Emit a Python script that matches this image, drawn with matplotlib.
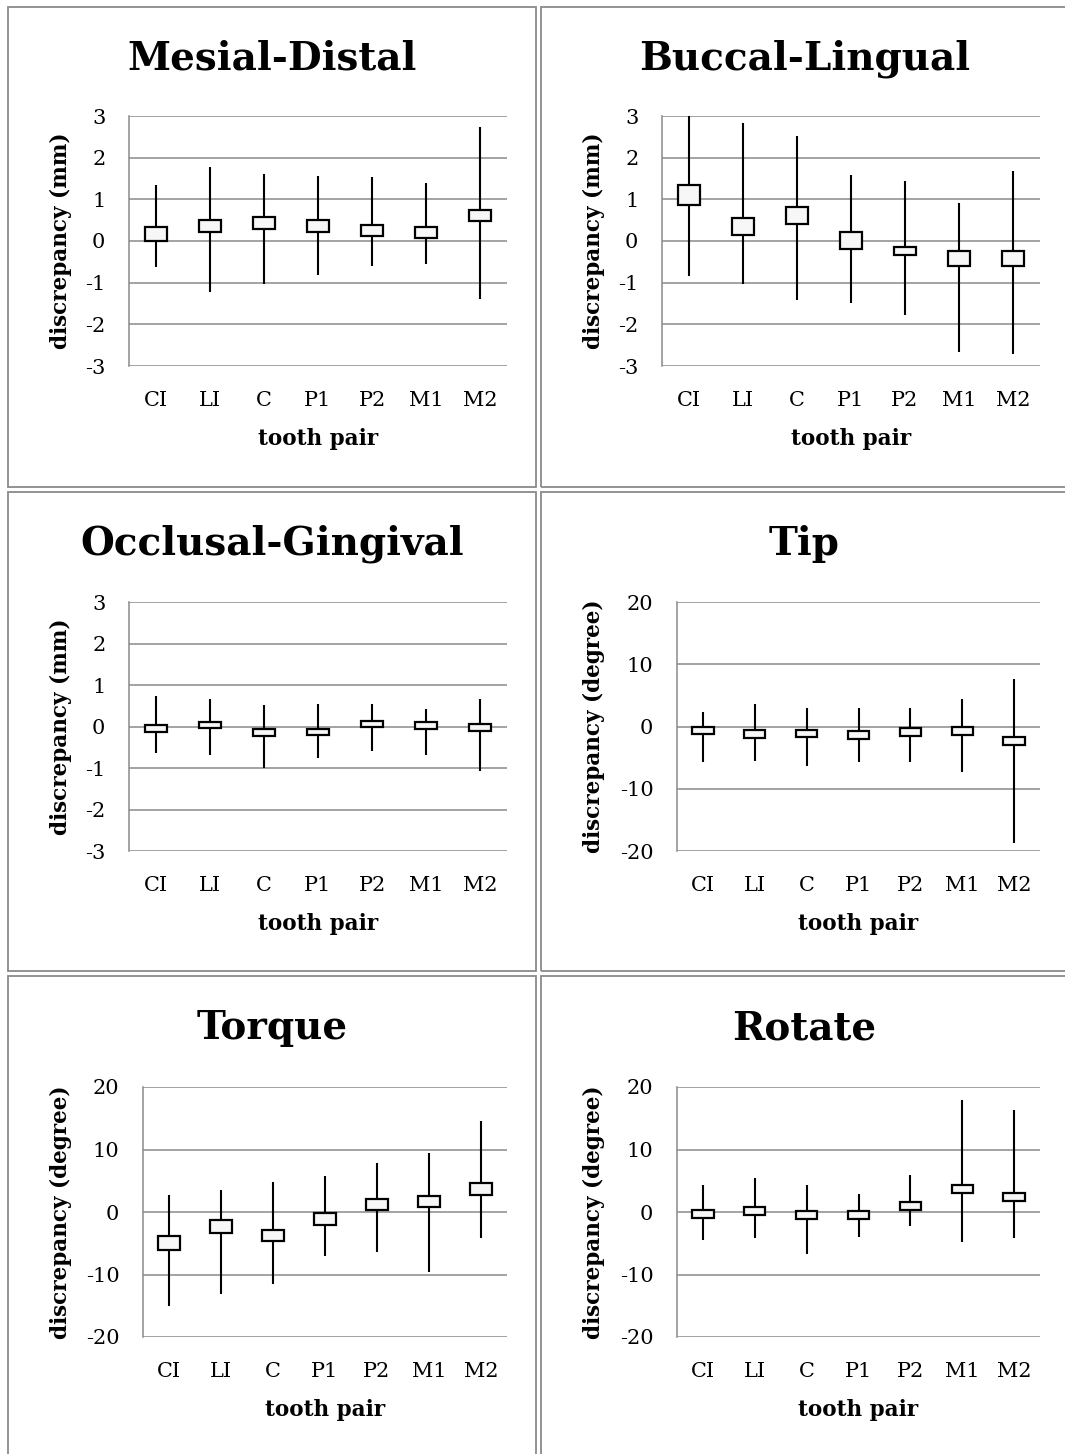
"""Tooth-pair discrepancy charts: min-max range with interval box, six panels."""

import matplotlib

matplotlib.use("Agg")
import matplotlib.pyplot as plt
from matplotlib.patches import Rectangle

W, H = 1065, 1454

teeth = ["CI", "LI", "C", "P1", "P2", "M1", "M2"]

# each panel: line max, line min, box top, box bottom
md_max = [1.34, 1.77, 1.61, 1.56, 1.53, 1.40, 2.73]
md_min = [-0.63, -1.23, -1.03, -0.81, -0.61, -0.56, -1.39]
md_top = [0.33, 0.50, 0.57, 0.50, 0.38, 0.34, 0.75]
md_bot = [0.01, 0.22, 0.30, 0.22, 0.11, 0.08, 0.48]

bl_max = [3.0, 2.83, 2.51, 1.58, 1.45, 0.91, 1.68]
bl_min = [-0.83, -1.03, -1.41, -1.49, -1.78, -2.67, -2.72]
bl_top = [1.34, 0.55, 0.82, 0.21, -0.15, -0.23, -0.23]
bl_bot = [0.86, 0.14, 0.42, -0.18, -0.34, -0.60, -0.60]

og_max = [0.73, 0.66, 0.51, 0.55, 0.55, 0.43, 0.66]
og_min = [-0.63, -0.68, -1.00, -0.77, -0.59, -0.68, -1.07]
og_top = [0.04, 0.11, -0.06, -0.06, 0.13, 0.10, 0.06]
og_bot = [-0.14, -0.03, -0.22, -0.21, -0.02, -0.06, -0.10]

tip_max = [2.35, 3.69, 3.05, 2.99, 3.05, 4.39, 7.59]
tip_min = [-5.72, -5.61, -6.31, -5.67, -5.72, -7.33, -18.77]
tip_top = [-0.05, -0.59, -0.53, -0.75, -0.32, -0.05, -1.66]
tip_bot = [-1.28, -1.87, -1.76, -1.98, -1.60, -1.34, -2.99]

tq_max = [2.77, 3.47, 4.85, 5.81, 7.79, 9.49, 14.5]
tq_min = [-15.04, -13.12, -11.47, -7.09, -6.45, -9.55, -4.16]
tq_top = [-3.84, -1.33, -2.83, -0.21, 2.13, 2.61, 4.59]
tq_bot = [-6.13, -3.31, -4.69, -2.03, 0.27, 0.80, 2.72]

rot_max = [4.37, 5.44, 4.37, 2.88, 5.87, 17.97, 16.27]
rot_min = [-4.43, -4.21, -6.77, -3.95, -2.19, -4.85, -4.16]
rot_top = [0.32, 0.85, 0.16, 0.16, 1.55, 4.27, 3.09]
rot_bot = [-1.01, -0.43, -1.12, -1.12, 0.27, 2.99, 1.76]

mm_ticks = [-3, -2, -1, 0, 1, 2, 3]
deg_ticks = [-20, -10, 0, 10, 20]

GRID = "#8a8a8a"
FONT = "DejaVu Serif"

# (title, ylabel, ticks, series, panel box px, axes box px)
panels = [
    ("Mesial-Distal", "discrepancy (mm)", mm_ticks,
     (md_max, md_min, md_top, md_bot), (8, 7, 536, 487), (129, 116, 507, 366)),
    ("Buccal-Lingual", "discrepancy (mm)", mm_ticks,
     (bl_max, bl_min, bl_top, bl_bot), (541, 7, 1068, 487), (662, 116, 1040, 366)),
    ("Occlusal-Gingival", "discrepancy (mm)", mm_ticks,
     (og_max, og_min, og_top, og_bot), (8, 492, 536, 971), (129, 602, 507, 851)),
    ("Tip", "discrepancy (degree)", deg_ticks,
     (tip_max, tip_min, tip_top, tip_bot), (541, 492, 1068, 971), (677, 602, 1040, 851)),
    ("Torque", "discrepancy (degree)", deg_ticks,
     (tq_max, tq_min, tq_top, tq_bot), (8, 976, 536, 1460), (143, 1087, 507, 1337)),
    ("Rotate", "discrepancy (degree)", deg_ticks,
     (rot_max, rot_min, rot_top, rot_bot), (541, 976, 1068, 1460), (677, 1087, 1040, 1337)),
]


def draw_panel(fig, title, ylabel, ticks, series, pbox, abox):
    px0, py0, px1, py1 = pbox
    fig.patches.append(
        Rectangle((px0 / W, 1 - py1 / H), (px1 - px0) / W, (py1 - py0) / H,
                  transform=fig.transFigure, fill=False, edgecolor=GRID,
                  linewidth=1.3, zorder=0)
    )
    fig.text((px0 + px1) / 2 / W, 1 - (py0 + 52) / H, title, ha="center",
             va="center", fontsize=28, fontweight="bold", family=FONT)

    ax0, ay0, ax1, ay1 = abox
    ax = fig.add_axes([ax0 / W, 1 - ay1 / H, (ax1 - ax0) / W, (ay1 - ay0) / H])
    hi, lo, top, bot = series
    xs = list(range(len(teeth)))
    ax.vlines(xs, lo, hi, color="black", linewidth=1.5, zorder=3)
    heights = [t - b for t, b in zip(top, bot)]
    ax.bar(xs, heights, bottom=bot, width=0.41, facecolor="#f7f7f7",
           edgecolor="black", linewidth=1.6, zorder=4)

    ax.set_xlim(-0.5, len(teeth) - 0.5)
    ax.set_ylim(ticks[0], ticks[-1])
    ax.set_yticks(ticks)
    ax.set_yticklabels([str(t) for t in ticks], family=FONT, fontsize=15)
    ax.set_xticks(xs)
    ax.set_xticklabels(teeth, family=FONT, fontsize=15)
    ax.tick_params(axis="both", length=0)
    ax.tick_params(axis="y", pad=17)
    ax.tick_params(axis="x", pad=18)
    ax.grid(axis="y", color=GRID, linewidth=1.1)
    ax.set_axisbelow(True)
    for side in ("top", "right", "bottom"):
        ax.spines[side].set_visible(False)
    ax.spines["left"].set_color(GRID)
    ax.spines["left"].set_linewidth(1.1)

    ax.set_ylabel(ylabel, family=FONT, fontsize=15.5, fontweight="bold")
    ax.yaxis.set_label_coords((px0 + 64 - ax0) / (ax1 - ax0), 0.5)
    ax.set_xlabel("tooth pair", family=FONT, fontsize=15.5, fontweight="bold")
    ax.xaxis.set_label_coords(0.5, -62 / (ay1 - ay0))


def main() -> None:
    fig = plt.figure(figsize=(W / 100, H / 100), dpi=100)
    for title, ylabel, ticks, series, pbox, abox in panels:
        draw_panel(fig, title, ylabel, ticks, series, pbox, abox)
    fig.savefig("out.png", dpi=100)
    plt.close(fig)


if __name__ == "__main__":
    main()
